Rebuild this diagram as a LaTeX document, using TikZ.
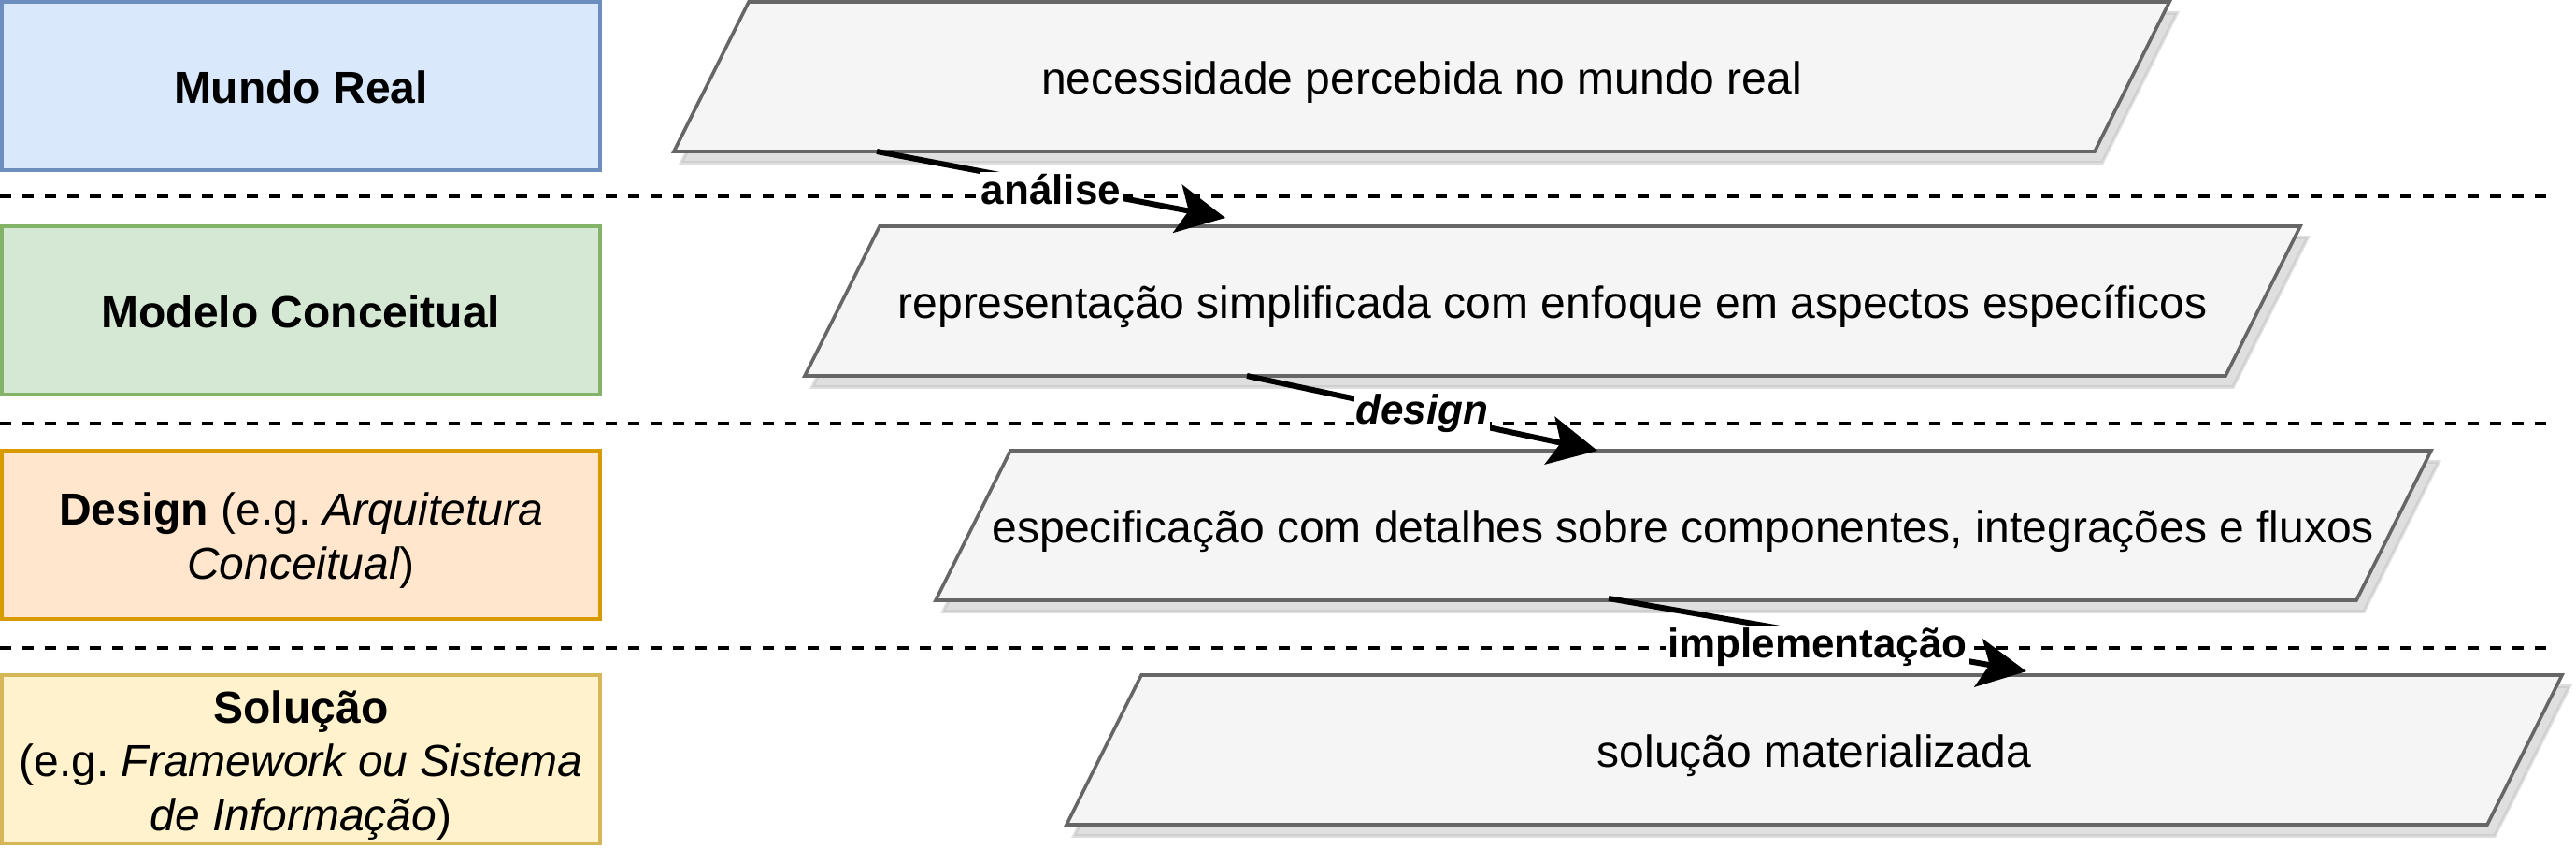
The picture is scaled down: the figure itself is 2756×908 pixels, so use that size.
\documentclass[tikz,border=0pt]{standalone}
\usepackage{fontspec}
\setmainfont{Liberation Sans}
\usetikzlibrary{shapes.geometric,shadows,arrows.meta}

\definecolor{realfill}{HTML}{DAE8FC}
\definecolor{realline}{HTML}{6C8EBF}
\definecolor{modelfill}{HTML}{D5E8D4}
\definecolor{modelline}{HTML}{82B366}
\definecolor{designfill}{HTML}{FFE6CC}
\definecolor{designline}{HTML}{D79B00}
\definecolor{solfill}{HTML}{FFF2CC}
\definecolor{solline}{HTML}{D6B656}
\definecolor{stagefill}{HTML}{F5F5F5}
\definecolor{stageline}{HTML}{666666}

% line strut: 1.2 line height, baseline as in the drawing
\newcommand{\ls}{\rule[-5.1pt]{0pt}{28.8pt}}

\tikzset{
  txt/.style={font=\fontsize{24pt}{28.8pt}\selectfont},
  layer/.style={txt, draw, line width=1.8pt, minimum width=320pt, minimum height=90pt, inner ysep=0pt, align=center},
  stage/.style={trapezium, trapezium left angle=63.43, trapezium right angle=116.57,
    trapezium stretches body=true, inner xsep=0pt, inner ysep=40pt, minimum width=800pt, outer sep=0pt,
    draw=stageline, fill=stagefill, line width=1.8pt,
    drop shadow={shadow xshift=4pt, shadow yshift=-6pt, fill=black!25, draw=black!25}},
  sep/.style={dash pattern=on 6pt off 6pt, line width=1.8pt},
  flow/.style={line width=3pt, -{Stealth[length=26pt, width=26pt, inset=6pt]}},
  flowlabel/.style={fill=white, inner sep=1pt, font=\bfseries\fontsize{22pt}{26pt}\selectfont},
}

\begin{document}
\begin{tikzpicture}[x=0.5pt, y=-0.5pt, every label/.style={txt, execute at begin node=\ls}]
  \useasboundingbox (0,0) rectangle (2756,908);

  % layers on the left
  \node[layer, fill=realfill, draw=realline] (real) at (322,92) {\ls\textbf{Mundo Real}};
  \node[layer, fill=modelfill, draw=modelline] (model) at (322,332) {\ls\textbf{Modelo Conceitual}};
  \node[layer, fill=designfill, draw=designline] (design) at (322,572)
    {\ls\textbf{Design} (e.g.\ \textit{Arquitetura}\\\ls\textit{Conceitual})};
  \node[layer, fill=solfill, draw=solline] (sol) at (322,812)
    {\ls\textbf{Solução}\\\ls(e.g.\ \textit{Framework ou Sistema}\\\ls\textit{de Informação})};

  % separators
  \draw[sep] (0,210) -- (2724,210);
  \draw[sep] (0,453) -- (2724,453);
  \draw[sep] (0,693) -- (2724,693);

  % stages
  \node[stage, label=center:{necessidade percebida no mundo real}] (p1) at (1521,82) {};
  \node[stage, label=center:{representação simplificada com enfoque em aspectos específicos}] (p2) at (1661,322) {};
  \node[stage, label=center:{especificação com detalhes sobre componentes, integrações e fluxos}] (p3) at (1801,562) {};
  \node[stage, label=center:{solução materializada}] (p4) at (1941,802) {};

  \draw[flow] ([xshift=108.5pt]p1.bottom left corner)
    -- node[flowlabel, yshift=-2.5pt] {análise} ([xshift=185pt, yshift=4.5pt]p2.top left corner);
  \draw[flow] ([xshift=236.5pt]p2.bottom left corner)
    -- node[flowlabel] {\textit{design}} ([xshift=314pt]p3.top left corner);
  \draw[flow] ([xshift=360pt, yshift=1pt]p3.bottom left corner)
    -- node[flowlabel, yshift=-6.5pt] {implementação} ([xshift=473.5pt, yshift=2pt]p4.top left corner);
\end{tikzpicture}
\end{document}
